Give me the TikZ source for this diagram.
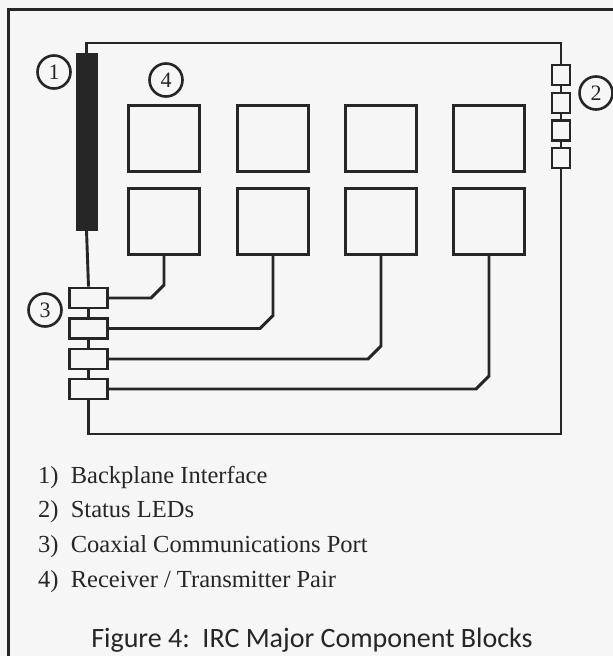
\documentclass[tikz,border=0pt]{standalone}
\usepackage{fontspec}
\setmainfont{Liberation Serif}
\newfontfamily\capfont{Carlito}
\usepackage{tikz}
\usetikzlibrary{calc}
\definecolor{InkGray}{RGB}{38,38,38}
\definecolor{PaperGray}{RGB}{246,246,246}

\begin{document}
\begin{tikzpicture}[x=1pt,y=-1pt,
    wire/.style={draw=InkGray,line width=2.9pt},
    rxbox/.style={draw=InkGray,line width=3.2pt,minimum width=71pt,minimum height=66pt,inner sep=0pt},
    led/.style={draw=InkGray,line width=2.6pt,minimum width=18pt,minimum height=20pt,inner sep=0pt},
    port/.style={draw=InkGray,line width=2.8pt,minimum width=38pt,minimum height=20pt,inner sep=0pt},
    tag/.style={circle,draw=InkGray,line width=2.6pt,minimum size=33pt,inner sep=0pt,
                font=\fontsize{22}{22}\selectfont,text=InkGray},
    item/.style={anchor=west,font=\fontsize{24.5}{28}\selectfont,text=InkGray,inner sep=0pt}]

    \fill[PaperGray] (0,0) rectangle (613,656);
    \useasboundingbox (0,0) rectangle (613,656);
    \draw[InkGray,line width=3pt] (8.5,660) -- (8.5,9) -- (620,9);

    % backplane bar
    \node[draw=InkGray,fill=InkGray,minimum width=21pt,minimum height=177pt,inner sep=0pt]
      (bar) at (86.5,141.5) {};

    % receiver / transmitter pairs
    \foreach \x [count=\i] in {164,273,381,489} {
      \node[rxbox] (rx\i) at (\x,138.5) {};
      \node[rxbox] (tx\i) at (\x,221.5) {};
    }

    % status LEDs
    \foreach \y [count=\i] in {75,103,130.5,158} { \node[led] (led\i) at (561,\y) {}; }

    % coax ports
    \foreach \y [count=\i] in {298,328.5,359,389} { \node[port] (p\i) at (88.5,\y) {}; }

    \coordinate (tl) at (bar.north |- 0,43);
    \coordinate (tr) at (led1.north |- 0,43);
    \coordinate (br) at (led4.south |- 0,434);
    \coordinate (bl) at (p4.south |- 0,434);

    \draw[wire] (bar.north) -- (tl) -- (tr) -- (led1.north);
    \foreach \i/\j in {1/2,2/3,3/4} { \draw[wire] (led\i.south) -- (led\j.north); }
    \draw[wire] (led4.south) -- (br) -- (bl) -- (p4.south);
    \draw[wire] (bar.south) -- (p1.north);
    \foreach \i/\j in {1/2,2/3,3/4} { \draw[wire] (p\i.south) -- (p\j.north); }

    % wires from transmitters to ports
    \foreach \i in {1,2,3,4} {
      \draw[wire] (tx\i.south) -- ($(tx\i.south |- p\i.east)+(0,-13)$)
        -- ($(tx\i.south |- p\i.east)+(-13,0)$) -- (p\i.east);
    }

    % callouts
    \node[tag] (c1) at (54,72) {1};
    \node[tag] (c2) at (596,93) {2};
    \node[tag] (c3) at (45,310) {3};
    \node[tag] (c4) at (166,80) {4};

    % legend
    \node[item] (l1) at (38,477) {1)\ \ Backplane Interface};
    \node[item] (l2) at (38,512) {2)\ \ Status LEDs};
    \node[item] (l3) at (38,547) {3)\ \ Coaxial Communications Port};
    \node[item] (l4) at (38,582) {4)\ \ Receiver / Transmitter Pair};
    \node[font=\capfont\fontsize{28}{30}\selectfont,text=InkGray,inner sep=0pt]
      (cap) at (312,640) {Figure 4:\ \ IRC Major Component Blocks};
\end{tikzpicture}
\end{document}
